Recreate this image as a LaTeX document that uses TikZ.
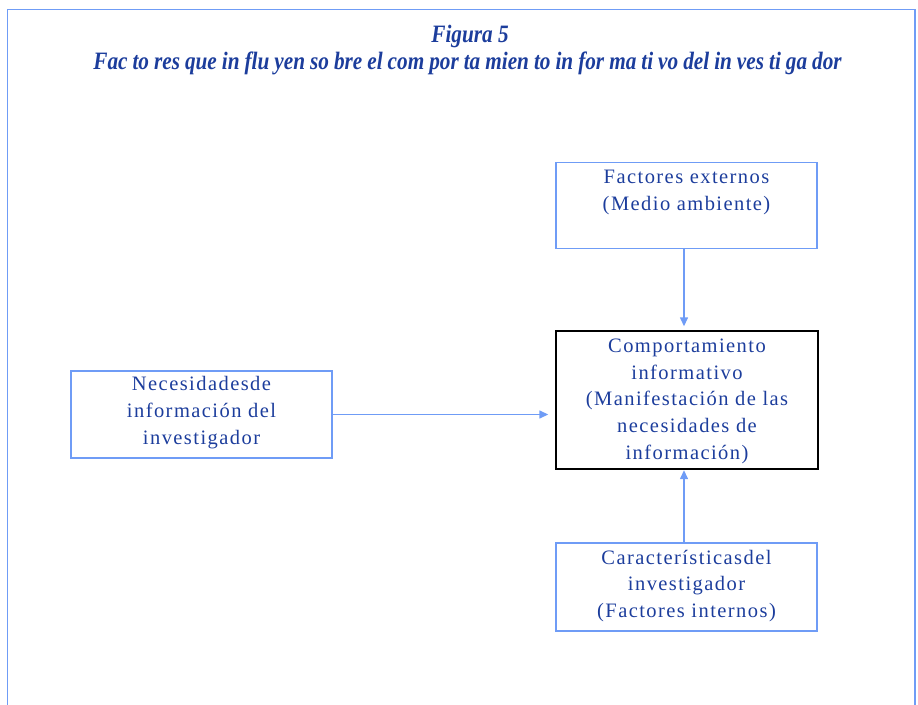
\documentclass[tikz,border=0pt]{standalone}
\usepackage{fontspec}
\setmainfont{Liberation Serif}
\newfontfamily\boxfont[LetterSpace=7]{Liberation Serif}
\newfontfamily\titlefont[FakeStretch=0.85]{Liberation Serif}
\usetikzlibrary{arrows.meta}
\definecolor{txtblue}{HTML}{1C3D9C}
\definecolor{lineblue}{HTML}{6F9CF6}
\tikzset{
  fbox/.style={draw=lineblue, line width=1.4bp, inner sep=0pt, text=txtblue},
  kbox/.style={draw=black, line width=1.4bp, inner sep=0pt, text=txtblue},
  conn/.style={draw=lineblue, line width=1.4bp, -{Triangle[length=9bp,width=8bp]}},
  ttl/.style={text=txtblue, inner sep=0pt, font=\titlefont\bfseries\itshape\fontsize{25bp}{30bp}\selectfont}
}
\newcommand{\boxtext}[4]{\parbox[c][#2][t]{#1}{\centering\boxfont\fontsize{20.5bp}{26.7bp}\selectfont\vspace*{#3}#4\par}}
\begin{document}
\begin{tikzpicture}[x=1bp,y=-1bp]
\useasboundingbox (0,0) rectangle (918,705);
\draw[draw=lineblue, line width=1.4bp] (7.5,705) -- (7.5,9.5) -- (915,9.5) -- (915,705);
\node[ttl] (t1) at (470,36) {Figura 5};
\node[ttl] (t2) at (467.5,63) {\spaceskip=0.2em Fac to res que in flu yen so bre el com por ta mien to in for ma ti vo del in ves ti ga dor};
\node[fbox] (ext) at (686.5,205.5) {\boxtext{261bp}{86bp}{8bp}{Factores externos\\(Medio ambiente)}};
\node[kbox] (comp) at (687,400) {\boxtext{262bp}{138bp}{8bp}{Comportamiento\\informativo\\(Manifestaci\'on de las\\necesidades de\\informaci\'on)}};
\node[fbox] (nec) at (201.5,414.5) {\boxtext{261bp}{87bp}{5.5bp}{Necesidadesde\\informaci\'on del\\investigador}};
\node[fbox] (car) at (686.5,587) {\boxtext{261bp}{88bp}{7bp}{Caracter\'isticasdel\\investigador\\(Factores internos)}};
\draw[conn, shorten >=4bp] ([xshift=-2.5bp]ext.south) -- ([xshift=-3bp]comp.north);
\draw[conn, shorten >=7bp] (nec.east) -- (nec.east -| comp.west);
\draw[conn, shorten >=0.5bp] ([xshift=-2.5bp]car.north) -- ([xshift=-3bp]comp.south);
\end{tikzpicture}
\end{document}
